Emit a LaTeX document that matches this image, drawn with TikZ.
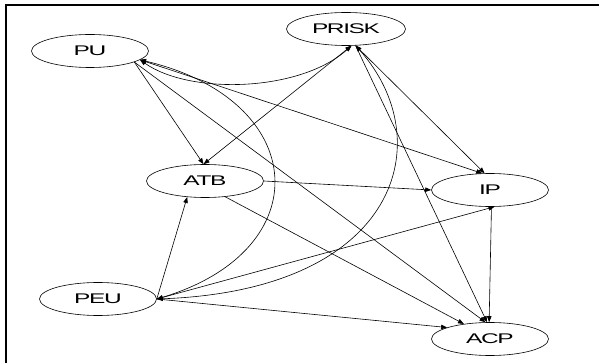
\documentclass[tikz,border=0pt]{standalone}
\usepackage{fontspec}
\newfontfamily\gvfont[FakeStretch=1.75,LetterSpace=-10]{Liberation Sans}
\usetikzlibrary{shapes.geometric,arrows.meta}

\begin{document}
\begin{tikzpicture}[x=1pt,y=-1pt,
    var/.style={ellipse,draw,line width=0.6pt,minimum width=117pt,minimum height=33pt,inner sep=0pt,
      font=\gvfont\fontsize{14}{16}\selectfont},
    link/.style={line width=0.6pt,-{Triangle[length=6pt,width=4.5pt]}},
    both/.style={line width=0.6pt,{Triangle[length=6pt,width=4.5pt]}-{Triangle[length=6pt,width=4.5pt]}}]
  \useasboundingbox (0,0) rectangle (599,363);
  \draw[line width=1.5pt] (6,5) rectangle (612,376);

  \node[var] (PU) at (90,51) {PU};
  \node[var,minimum width=119pt] (PRISK) at (346,29) {PRISK};
  \node[var] (ATB) at (205,181) {ATB};
  \node[var] (IP) at (490,190) {IP};
  \node[var] (PEU) at (98,299) {PEU};
  \node[var] (ACP) at (490,339) {ACP};

  % PU
  \draw[link] (PU.-14) -- (ATB.95);
  \draw[link] (PU.-14) -- (ACP.105);
  \draw[both] (PU.-10) -- (IP.115);
  \draw[both] (PU.-10) .. controls (190,95) and (300,92) .. (PRISK.-72);
  \draw[both] (PU.-10) .. controls (310,100) and (320,250) .. (PEU.east);

  % PRISK
  \draw[both] (PRISK.-72) -- (ATB.95);
  \draw[both] (PRISK.-60) -- (IP.108);
  \draw[link] (PRISK.-60) -- (ACP.100);
  \draw[both] (PRISK.-60) .. controls (440,140) and (400,290) .. (PEU.east);

  % ATB
  \draw[link] (ATB.east) -- (IP.west);
  \draw[link] (ATB.-38) -- (ACP.150);

  % PEU
  \draw[link] (PEU.east) -- (ATB.-138);
  \draw[link] (PEU.east) -- (IP.-75);
  \draw[link] (PEU.east) -- (ACP.165);

  % IP
  \draw[link] (IP.-85) -- (ACP.93);
\end{tikzpicture}
\end{document}
